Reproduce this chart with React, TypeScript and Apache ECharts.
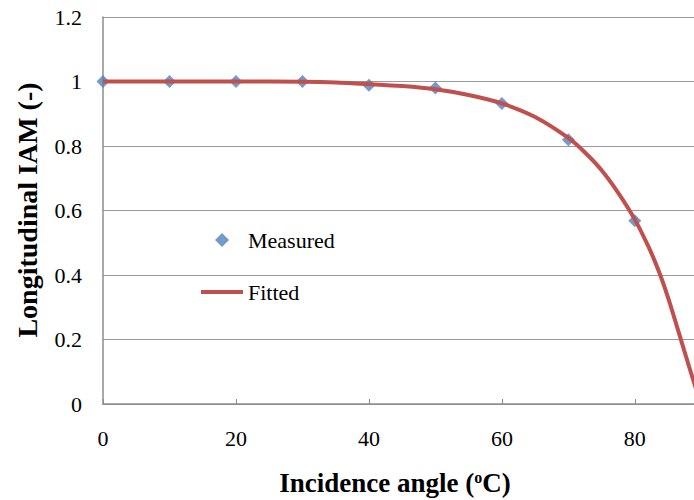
import React, { useEffect, useRef } from "react";
import * as echarts from "echarts";

const measuredAngles = [0, 10, 20, 30, 40, 50, 60, 70, 80];
const measuredIAM = [1.0, 1.0, 1.0, 1.0, 0.988, 0.98, 0.932, 0.819, 0.568];

const fittedAngles = [0, 10, 20, 30, 35, 40, 45, 50, 55, 60, 65, 70, 72.5, 75, 77.5, 80, 82, 83, 84, 85, 86, 87, 88, 89, 90];
const fittedIAM = [1.0, 1.0, 1.0, 0.999, 0.997, 0.992, 0.986, 0.976, 0.958, 0.932, 0.89, 0.825, 0.78, 0.725, 0.655, 0.5725, 0.49, 0.443, 0.39, 0.33, 0.263, 0.195, 0.127, 0.06, 0.0];

const yTicks = [0, 0.2, 0.4, 0.6, 0.8, 1, 1.2];
const xTicks = [0, 20, 40, 60, 80];

const FONT = "Liberation Serif";

export default function App() {
  const ref = useRef<HTMLDivElement>(null);
  useEffect(() => {
    if (!ref.current) return;
    const chart = echarts.init(ref.current, null, { renderer: "svg" });
    chart.setOption({
      animation: false,
      backgroundColor: "#ffffff",
      grid: { left: 103, top: 17, right: 0, bottom: 96, containLabel: false },
      xAxis: {
        type: "value",
        min: 0,
        max: 88.9,
        interval: 20,
        axisLine: { show: true, lineStyle: { color: "#8c8c8c", width: 1.5 } },
        axisTick: { show: true, inside: true, length: 5, lineStyle: { color: "#8c8c8c" } },
        splitLine: { show: false },
        axisLabel: {
          showMaxLabel: false,
          margin: 23,
          color: "#000",
          fontFamily: FONT,
          fontSize: 22,
          formatter: (v: number) => (xTicks.includes(v) ? String(v) : ""),
        },
      },
      yAxis: {
        type: "value",
        min: 0,
        max: 1.2,
        interval: 0.2,
        axisLine: { show: true, lineStyle: { color: "#8c8c8c", width: 1.5 } },
        axisTick: { show: false },
        splitLine: { show: true, lineStyle: { color: "#999999", width: 1.2 } },
        axisLabel: {
          margin: 21,
          color: "#000",
          fontFamily: FONT,
          fontSize: 22,
          formatter: (v: number) => {
            const t = yTicks.find((k) => Math.abs(k - v) < 1e-6);
            return t === undefined ? "" : String(t);
          },
        },
      },
      legend: {
        orient: "vertical",
        left: 201,
        top: 229,
        padding: 0,
        itemWidth: 42,
        itemHeight: 14,
        itemGap: 30,
        symbolKeepAspect: true,
        textStyle: { fontFamily: FONT, fontSize: 22, color: "#000" },
        data: [
          { name: "Measured", icon: "path://M7,0 L14,7 L7,14 L0,7 Z" },
          { name: "Fitted", icon: "path://M0,0 L40,0 L40,4 L0,4 Z" },
        ],
      },
      series: [
        {
          name: "Measured",
          type: "scatter",
          symbol: "diamond",
          symbolSize: 13,
          itemStyle: { color: "#4F81BD" },
          data: measuredAngles.map((a, i) => [a, measuredIAM[i]]),
          z: 2,
        },
        {
          name: "Fitted",
          type: "line",
          showSymbol: false,
          symbol: "none",
          smooth: 0.3,
          lineStyle: { color: "#C0504D", width: 4 },
          itemStyle: { color: "#C0504D" },
          data: fittedAngles.map((a, i) => [a, fittedIAM[i]]),
          z: 3,
        },
      ],
      graphic: [
        {
          type: "text",
          x: 395,
          y: 483,
          style: {
            text: "{n|Incidence angle (}{s|o}{n|C)}",
            align: "center",
            verticalAlign: "middle",
            rich: {
              n: { fontFamily: FONT, fontWeight: "bold", fontSize: 27, color: "#000" },
              s: { fontFamily: FONT, fontWeight: "bold", fontSize: 16, color: "#000", verticalAlign: "top", padding: [0, 0, 10, 0] },
            },
          },
        },
        {
          type: "text",
          x: 27,
          y: 210,
          rotation: Math.PI / 2,
          style: {
            text: "Longitudinal IAM (-)",
            fontFamily: FONT,
            fontWeight: "bold",
            fontSize: 28,
            fill: "#000",
            align: "center",
            verticalAlign: "middle",
          },
        },
      ],
    });
    return () => chart.dispose();
  }, []);
  return (
    <div
      ref={ref}
      style={{ position: "fixed", left: 0, top: 0, width: 694, height: 500, background: "#fff" }}
    />
  );
}
